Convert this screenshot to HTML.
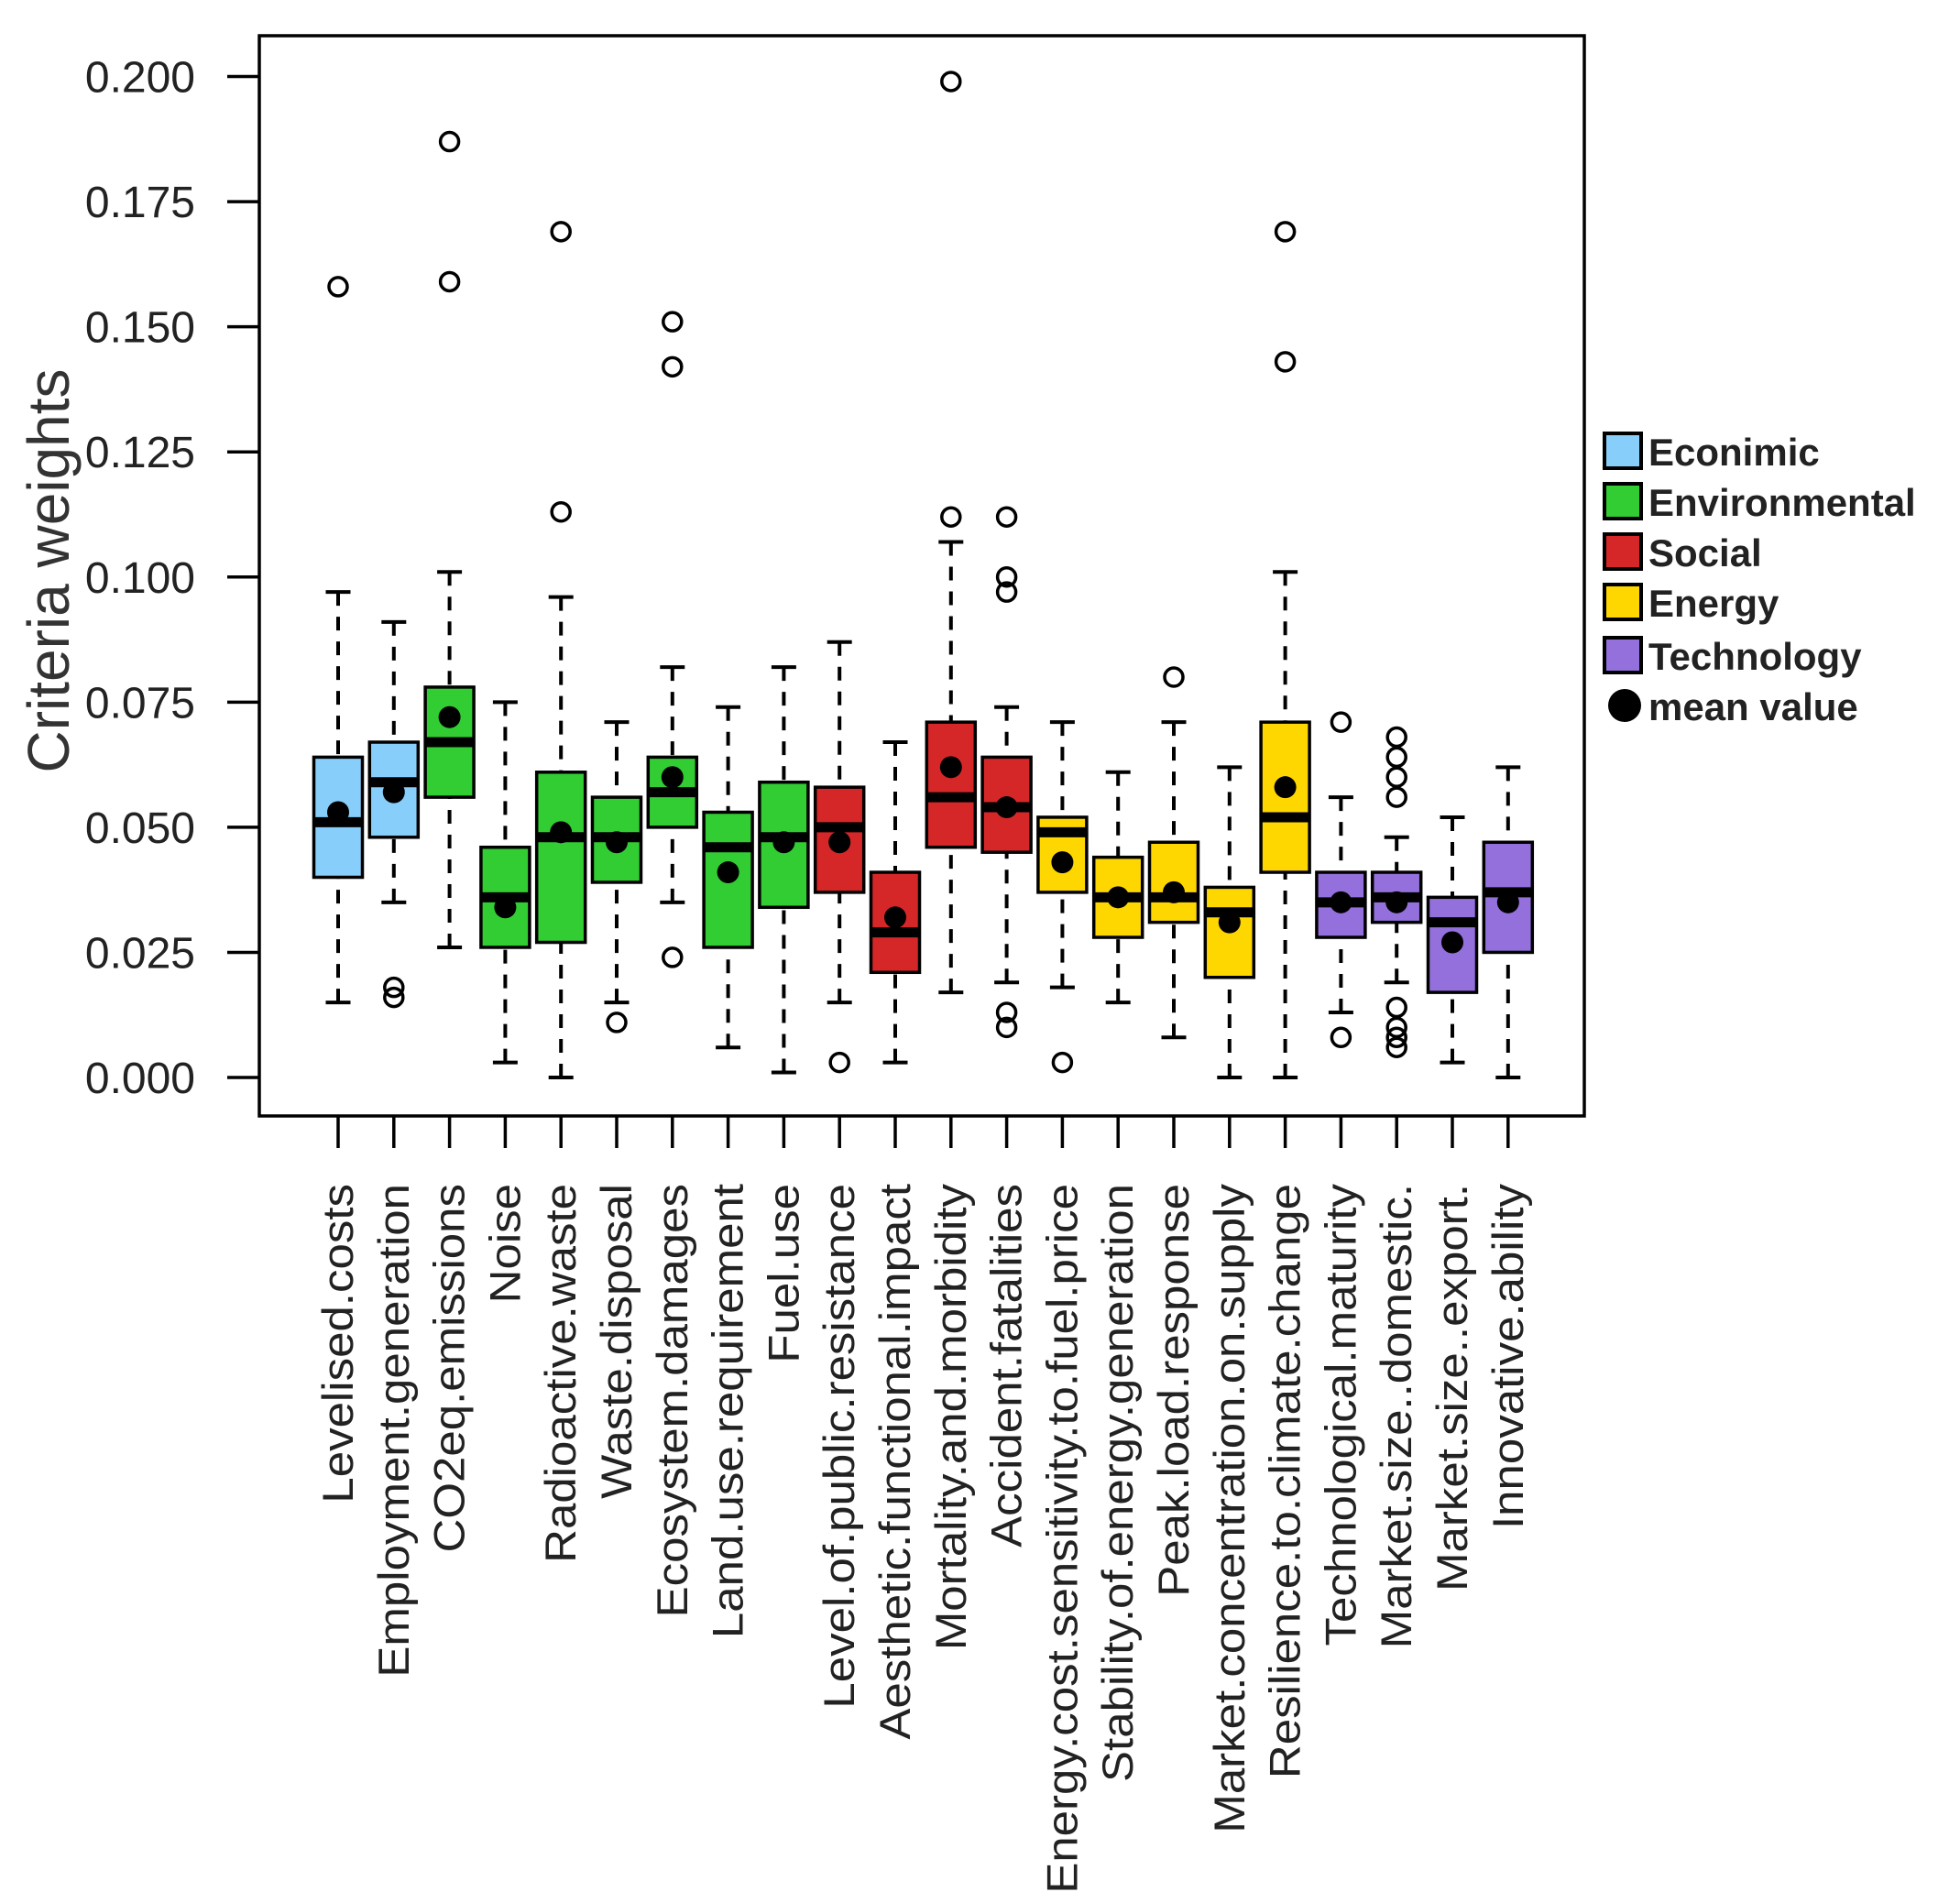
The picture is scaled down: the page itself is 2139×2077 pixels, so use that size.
<!DOCTYPE html>
<html><head><meta charset="utf-8">
<style>html,body{margin:0;padding:0;background:#fff}svg{display:block}</style>
</head><body>
<svg id="chart" width="2139" height="2077" viewBox="0 0 2139 2077" xmlns="http://www.w3.org/2000/svg" font-family="Liberation Sans, sans-serif">
<rect x="283" y="39" width="1446" height="1179" fill="none" stroke="#000" stroke-width="3.5"/>
<text transform="translate(75,623) rotate(-90)" text-anchor="middle" font-size="64" fill="#333">Criteria weights</text>
<g id="axis"></g><g id="boxes"></g><g id="legend"></g>
</svg>
<script>
const categories=["Levelised.costs","Employment.generation","CO2eq.emissions","Noise","Radioactive.waste","Waste.disposal","Ecosystem.damages","Land.use.requirement","Fuel.use","Level.of.public.resistance","Aesthetic.functional.impact","Mortality.and.morbidity","Accident.fatalities","Energy.cost.sensitivity.to.fuel.price","Stability.of.energy.generation","Peak.load.response","Market.concentration.on.supply","Resilience.to.climate.change","Technological.maturity","Market.size..domestic.","Market.size..export.","Innovative.ability"];
const groups=[0,0,1,1,1,1,1,1,1,2,2,2,2,3,3,3,3,3,4,4,4,4];
const whiskerLow=[.015,.035,.026,.003,.000,.015,.035,.006,.001,.015,.003,.017,.019,.018,.015,.008,.000,.000,.013,.019,.003,.000];
const q1=[.040,.048,.056,.026,.027,.039,.050,.026,.034,.037,.021,.046,.045,.037,.028,.031,.020,.041,.028,.031,.017,.025];
const medians=[.051,.059,.067,.036,.048,.048,.057,.046,.048,.050,.029,.056,.054,.049,.036,.036,.033,.052,.035,.036,.031,.037];
const q3=[.064,.067,.078,.046,.061,.056,.064,.053,.059,.058,.041,.071,.064,.052,.044,.047,.038,.071,.041,.041,.036,.047];
const whiskerHigh=[.097,.091,.101,.075,.096,.071,.082,.074,.082,.087,.067,.107,.074,.071,.061,.071,.062,.101,.056,.048,.052,.062];
const means=[.053,.057,.072,.034,.049,.047,.060,.041,.047,.047,.032,.062,.054,.043,.036,.037,.031,.058,.035,.035,.027,.035];
const outliers=[[.158],[.016,.018],[.159,.187],[],[.113,.169],[.011],[.024,.142,.151],[],[],[.003],[],[.112,.199],[.010,.013,.097,.100,.112],[.003],[],[.080],[],[.143,.169],[.008,.071],[.006,.008,.010,.014,.056,.060,.064,.068],[],[]];
const groupNames=["Econimic","Environmental","Social","Energy","Technology"];
const groupColors=["#87cefa","#32cd32","#d62728","#ffd700","#9370db"];
const yTicks=[0,0.025,0.05,0.075,0.1,0.125,0.15,0.175,0.2];
const yTickLabels=["0.000","0.025","0.050","0.075","0.100","0.125","0.150","0.175","0.200"];

const NS="http://www.w3.org/2000/svg";
function y(v){return 1176-(v/0.2)*(1176-83.5);}
function x(i){return 369+i*60.8;}
function mk(tag,attrs,parent){const e=document.createElementNS(NS,tag);for(const k in attrs)e.setAttribute(k,attrs[k]);parent.appendChild(e);return e;}
const axis=document.getElementById('axis'),boxes=document.getElementById('boxes'),legend=document.getElementById('legend');

yTicks.forEach((t,i)=>{
  const l=mk('line',{x1:248,x2:283,y1:y(t),y2:y(t),stroke:'#000','stroke-width':3.5},axis);
  
  
  const tx=mk('text',{x:213,y:y(t)+17,'text-anchor':'end','font-size':48,fill:'#222'},axis);
  tx.textContent=yTickLabels[i];
  
  
});

categories.forEach((c,i)=>{
  const cx=x(i);
  const t=mk('line',{x1:cx,x2:cx,y1:1218,y2:1253,stroke:'#000','stroke-width':3.5},axis);
  
  
  const lab=mk('text',{transform:`translate(${cx+16},1292) rotate(-90)`,'text-anchor':'end','font-size':47,fill:'#222'},axis);
  lab.textContent=c;
  
  
  const len=lab.getComputedTextLength();
  if(len>0){lab.setAttribute('textLength',len*1.085);lab.setAttribute('lengthAdjust','spacingAndGlyphs');}

  const g=mk('g',{},boxes);
  
  
  const w=53,cw=27;
  const wl=mk('line',{x1:cx,x2:cx,y1:y(whiskerLow[i]),y2:y(q1[i]),stroke:'#000','stroke-width':4,'stroke-dasharray':'15,12'},g);
  
  
  const wh=mk('line',{x1:cx,x2:cx,y1:y(whiskerHigh[i]),y2:y(q3[i]),stroke:'#000','stroke-width':4,'stroke-dasharray':'15,12'},g);
  
  
  const cl=mk('line',{x1:cx-cw/2,x2:cx+cw/2,y1:y(whiskerLow[i]),y2:y(whiskerLow[i]),stroke:'#000','stroke-width':4},g);
  
  
  const ch=mk('line',{x1:cx-cw/2,x2:cx+cw/2,y1:y(whiskerHigh[i]),y2:y(whiskerHigh[i]),stroke:'#000','stroke-width':4},g);
  
  
  const r=mk('rect',{x:cx-w/2,y:y(q3[i]),width:w,height:y(q1[i])-y(q3[i]),fill:groupColors[groups[i]],stroke:'#000','stroke-width':3.5},g);
  
  
  const m=mk('line',{x1:cx-w/2,x2:cx+w/2,y1:y(medians[i]),y2:y(medians[i]),stroke:'#000','stroke-width':11},g);
  
  
  const mn=mk('circle',{cx:cx,cy:y(means[i]),r:12,fill:'#000'},g);
  
  
  outliers[i].forEach(o=>{
    const oc=mk('circle',{cx:cx,cy:y(o),r:10,fill:'none',stroke:'#000','stroke-width':3.5},g);
    
    
  });
});

const rowsY=[492,547,602,657,715,770];
const legendWidths=[124,308,130,140,250];
groupNames.forEach((n,i)=>{
  const r=mk('rect',{x:1751,y:rowsY[i]-19,width:40,height:38,fill:groupColors[i],stroke:'#000','stroke-width':4},legend);
  
  
  const t=mk('text',{x:1799,y:rowsY[i]+16,'font-size':42,'font-weight':'bold',fill:'#222'},legend);
  t.textContent=n;
  
  
});
const md=mk('circle',{cx:1773,cy:rowsY[5],r:18,fill:'#000'},legend);


const mt=mk('text',{x:1799,y:rowsY[5]+16,'font-size':42,'font-weight':'bold',fill:'#222'},legend);
mt.textContent='mean value';


</script>
</body></html>
